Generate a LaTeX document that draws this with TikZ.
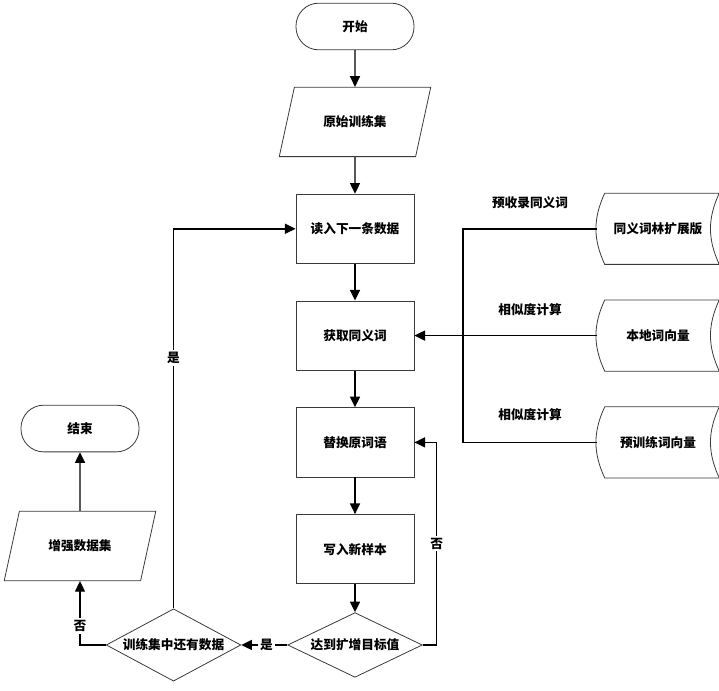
\documentclass[tikz,border=0pt]{standalone}
\usepackage{fontspec}
\setmainfont{Noto Sans CJK SC}
\usetikzlibrary{arrows.meta,positioning,shapes.geometric}
\definecolor{edgec}{HTML}{3A3A3A}

\begin{document}
\begin{tikzpicture}[
  x=0.75pt, y=-0.75pt,
  font=\bfseries\fontsize{9.5}{11}\selectfont,
  >={Triangle[length=8pt, width=7.5pt]},
  node distance=27.5pt,
  box/.style={rectangle, draw=edgec, line width=0.6pt, align=center,
              minimum width=88.5pt, minimum height=52pt, inner sep=2pt},
  term/.style={box, minimum height=35pt, rounded corners=17pt},
  io/.style={box, trapezium, trapezium stretches=true, trapezium left angle=64,
             trapezium right angle=116, minimum width=114pt},
  decide/.style={box, diamond, aspect=1.69, minimum width=101pt, minimum height=0pt,
                 inner sep=0pt},
  store/.style={rectangle, minimum width=91.5pt, minimum height=53pt, inner sep=2pt},
  flow/.style={->, draw=black, line width=1.1pt},
  link/.style={draw=black, line width=1.1pt},
  lbl/.style={fill=white, inner sep=1.5pt},
]
\useasboundingbox (0,0) rectangle (719,691);

% ---- main spine ----
\node[term] (start) at (355,26.5) {开始};
\node[io, below=of start] (raw) {原始训练集};
\node[box, below=of raw] (read) {读入下一条数据};
\node[box, below=of read] (syno) {获取同义词};
\node[box, below=of syno] (repl) {替换原词语};
\node[box, below=of repl] (write) {写入新样本};
\node[decide, below=21pt of write] (goal) {达到扩增目标值};

% ---- left branch ----
\node[decide, left=34.5pt of goal] (more) {训练集中还有数据};
\node[io] (aug) at (80,546) {增强数据集};
\node[term, above=44pt of aug] (end) {结束};

% ---- word resources ----
\coordinate (rcol) at (658,0);
\node[store] (cilin) at (read -| rcol) {同义词林扩展版};
\node[store] (local) at (syno -| rcol) {本地词向量};
\node[store] (pretr) at (repl -| rcol) {预训练词向量};
\foreach \s in {cilin,local,pretr}
  \draw[draw=edgec, line width=0.6pt]
    ([xshift=6pt]\s.north west) to[bend right=25] ([xshift=6pt]\s.south west)
    -- (\s.south east) to[bend left=25] (\s.north east) -- cycle;

% ---- flow edges ----
\draw[flow] (start) -- (raw);
\draw[flow] (raw) -- (read);
\draw[flow] (read) -- (syno);
\draw[flow] (syno) -- (repl);
\draw[flow] (repl) -- (write);
\draw[flow] (write) -- (goal);
\draw[flow] (goal.west) -- node[lbl, pos=0.45] {是} (more.east);
\draw[flow] (goal.east) -- ++(14,0) |- node[lbl, pos=0.25] {否} (repl.east);
\draw[flow] (more.north) |- node[lbl, pos=0.33] {是} (read.west);
\draw[flow] (more.west) -| node[lbl, pos=0.65] {否} (aug.south);
\draw[flow] (aug) -- (end);

% ---- resource lines ----
\coordinate (bus) at (463,0);
\draw[link] (cilin.west) -- (cilin.west -| bus) |- (pretr.west);
\draw[flow] (local.west) -- (syno.east);
\node (lcilin) at (530,203) {预收录同义词};
\node (llocal) at (530,310) {相似度计算};
\node (lpretr) at (530,415) {相似度计算};
\end{tikzpicture}
\end{document}
